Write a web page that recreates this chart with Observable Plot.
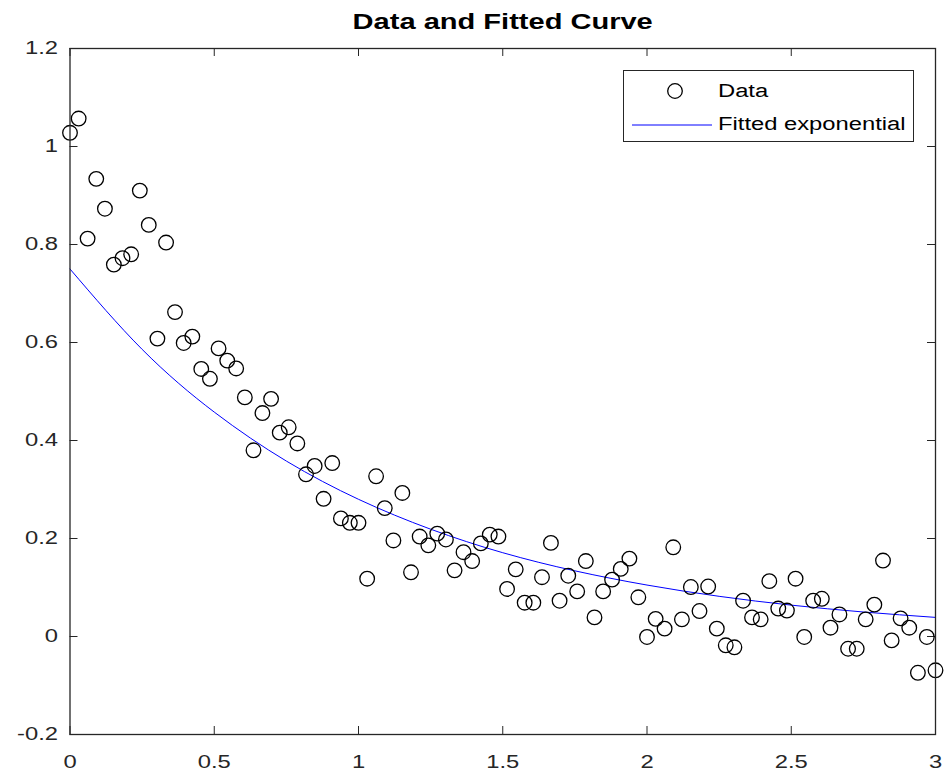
<!DOCTYPE html>
<html>
<head>
<meta charset="utf-8">
<script src="https://cdn.jsdelivr.net/npm/d3@7"></script>
<script src="https://cdn.jsdelivr.net/npm/@observablehq/plot@0.6"></script>
<style>
  html, body { margin: 0; padding: 0; background: #fff; }
  #wrap { position: relative; width: 945px; height: 776px; font-family: "Liberation Sans", Arial, sans-serif; }
  #chart { position: absolute; left: 0; top: 0; }
  #title { position: absolute; left: 69.5px; width: 865.5px; top: 0; height: 44px; line-height: 44px; text-align: center; color: #000; }
  #title span { display: inline-block; font-weight: bold; font-size: 22px; transform: scaleX(1.32); transform-origin: center; }
  #legend { position: absolute; left: 623px; top: 70px; width: 291px; height: 72px; border: 1px solid #262626; background: #fff; box-sizing: border-box; font-size: 18px; color: #000; }
  #legend .row { position: absolute; height: 24px; line-height: 24px; white-space: nowrap; transform: scaleX(1.32); transform-origin: left center; }
  #legend svg { position: absolute; left: 0; top: 0; }
</style>
</head>
<body>
<div id="wrap">
  <div id="chart"></div>
  <div id="title"><span>Data and Fitted Curve</span></div>
  <div id="legend"></div>
</div>
<script>
// Measured data (x, y)
const dataX = [0, 0.03, 0.061, 0.091, 0.121, 0.152, 0.182, 0.212, 0.242, 0.273,
  0.303, 0.333, 0.364, 0.394, 0.424, 0.455, 0.485, 0.515, 0.545, 0.576,
  0.606, 0.636, 0.667, 0.697, 0.727, 0.758, 0.788, 0.818, 0.848, 0.879,
  0.909, 0.939, 0.97, 1.0, 1.03, 1.061, 1.091, 1.121, 1.152, 1.182,
  1.212, 1.242, 1.273, 1.303, 1.333, 1.364, 1.394, 1.424, 1.455, 1.485,
  1.515, 1.545, 1.576, 1.606, 1.636, 1.667, 1.697, 1.727, 1.758, 1.788,
  1.818, 1.848, 1.879, 1.909, 1.939, 1.97, 2.0, 2.03, 2.061, 2.091,
  2.121, 2.152, 2.182, 2.212, 2.242, 2.273, 2.303, 2.333, 2.364, 2.394,
  2.424, 2.455, 2.485, 2.515, 2.545, 2.576, 2.606, 2.636, 2.667, 2.697,
  2.727, 2.758, 2.788, 2.818, 2.848, 2.879, 2.909, 2.939, 2.97, 3.0];
const dataY = [1.028, 1.057, 0.812, 0.934, 0.873, 0.759, 0.772, 0.780, 0.910, 0.840,
  0.608, 0.804, 0.662, 0.599, 0.612, 0.546, 0.526, 0.588, 0.563, 0.547,
  0.488, 0.380, 0.456, 0.485, 0.416, 0.427, 0.394, 0.331, 0.348, 0.281,
  0.354, 0.241, 0.232, 0.232, 0.118, 0.327, 0.262, 0.196, 0.293, 0.131,
  0.204, 0.186, 0.210, 0.198, 0.135, 0.172, 0.154, 0.190, 0.208, 0.204,
  0.097, 0.137, 0.069, 0.069, 0.121, 0.191, 0.073, 0.124, 0.092, 0.154,
  0.039, 0.092, 0.116, 0.138, 0.159, 0.080, -0.001, 0.036, 0.016, 0.182,
  0.035, 0.101, 0.052, 0.102, 0.016, -0.018, -0.022, 0.073, 0.039, 0.035,
  0.113, 0.057, 0.053, 0.118, -0.001, 0.073, 0.077, 0.018, 0.045, -0.025,
  -0.025, 0.035, 0.065, 0.155, -0.008, 0.037, 0.018, -0.074, -0.001, -0.069];

// Fitted curve at regular x positions
const fitX = [0, 0.25, 0.5, 0.75, 1.0, 1.25, 1.5, 1.75, 2.0, 2.25, 2.5, 2.75, 3.0];
const fitY = [0.750, 0.586, 0.458, 0.358, 0.280, 0.219, 0.171, 0.134, 0.105, 0.082, 0.064, 0.050, 0.039];

const xTicks = [0, 0.5, 1, 1.5, 2, 2.5, 3];
const xTickLabels = ["0", "0.5", "1", "1.5", "2", "2.5", "3"];
const yTicks = [-0.2, 0, 0.2, 0.4, 0.6, 0.8, 1, 1.2];
const yTickLabels = ["-0.2", "0", "0.2", "0.4", "0.6", "0.8", "1", "1.2"];

const legendLabels = ["Data", "Fitted exponential"];

const points = dataX.map((x, i) => ({x, y: dataY[i]}));
const fit = fitX.map((x, i) => ({x, y: fitY[i]}));

const W = 945, H = 776;
const mL = 69.5, mR = 10, mT = 48, mB = 42;
const plotW = W - mL - mR, plotH = H - mT - mB;
const tickLen = 8;
const axisColor = "#262626";
const stretch = 1.32;

const chart = Plot.plot({
  width: W,
  height: H,
  marginLeft: mL,
  marginRight: mR,
  marginTop: mT,
  marginBottom: mB,
  style: {fontFamily: "'Liberation Sans', Arial, sans-serif", fontSize: "18px", color: axisColor, background: "#fff", overflow: "visible"},
  x: {domain: [0, 3]},
  y: {domain: [-0.2, 1.2]},
  marks: [
    Plot.axisX(xTicks, {anchor: "bottom", tickSize: 0, tickPadding: 21, tickFormat: (d) => xTickLabels[xTicks.indexOf(d)], fontSize: 18, fill: axisColor, label: null}),
    Plot.axisY(yTicks, {anchor: "left", tickSize: 0, tickPadding: 12, tickFormat: (d) => yTickLabels[yTicks.indexOf(d)], fontSize: 18, fill: axisColor, label: null}),
    // inward ticks
    Plot.tickX(xTicks, {x: d => d, insetTop: plotH - tickLen, stroke: axisColor}),
    Plot.tickX(xTicks, {x: d => d, insetBottom: plotH - tickLen, stroke: axisColor}),
    Plot.tickY(yTicks, {y: d => d, insetRight: plotW - tickLen, stroke: axisColor}),
    Plot.tickY(yTicks, {y: d => d, insetLeft: plotW - tickLen, stroke: axisColor}),
    Plot.line(fit, {x: "x", y: "y", stroke: "#0000ff", strokeWidth: 1, curve: "natural"}),
    Plot.dot(points, {x: "x", y: "y", r: 7.3, stroke: "#000", strokeWidth: 1.3, fill: "none"}),
    Plot.frame({stroke: axisColor, strokeWidth: 1.3})
  ]
});
document.getElementById("chart").appendChild(chart);

// widen the tick labels horizontally, as in the reference (glyphs stretched in place)
chart.querySelectorAll("g[aria-label='x-axis tick label'] text, g[aria-label='y-axis tick label'] text").forEach(el => {
  const w = el.getComputedTextLength();
  if (w > 0) {
    el.setAttribute("textLength", (w * stretch).toFixed(2));
    el.setAttribute("lengthAdjust", "spacingAndGlyphs");
  }
});

// Legend
const leg = document.getElementById("legend");
const ns = "http://www.w3.org/2000/svg";
const svg = document.createElementNS(ns, "svg");
svg.setAttribute("width", 290);
svg.setAttribute("height", 71);
const c = document.createElementNS(ns, "circle");
c.setAttribute("cx", 51); c.setAttribute("cy", 20); c.setAttribute("r", 7.3);
c.setAttribute("fill", "none"); c.setAttribute("stroke", "#000"); c.setAttribute("stroke-width", 1.3);
svg.appendChild(c);
const l = document.createElementNS(ns, "line");
l.setAttribute("x1", 8); l.setAttribute("x2", 88); l.setAttribute("y1", 54); l.setAttribute("y2", 54);
l.setAttribute("stroke", "#0000ff"); l.setAttribute("stroke-width", 1);
svg.appendChild(l);
leg.appendChild(svg);
legendLabels.forEach((t, i) => {
  const d = document.createElement("div");
  d.className = "row";
  d.style.left = "94px";
  d.style.top = (i === 0 ? 8 : 41) + "px";
  d.textContent = t;
  leg.appendChild(d);
});
</script>
</body>
</html>
